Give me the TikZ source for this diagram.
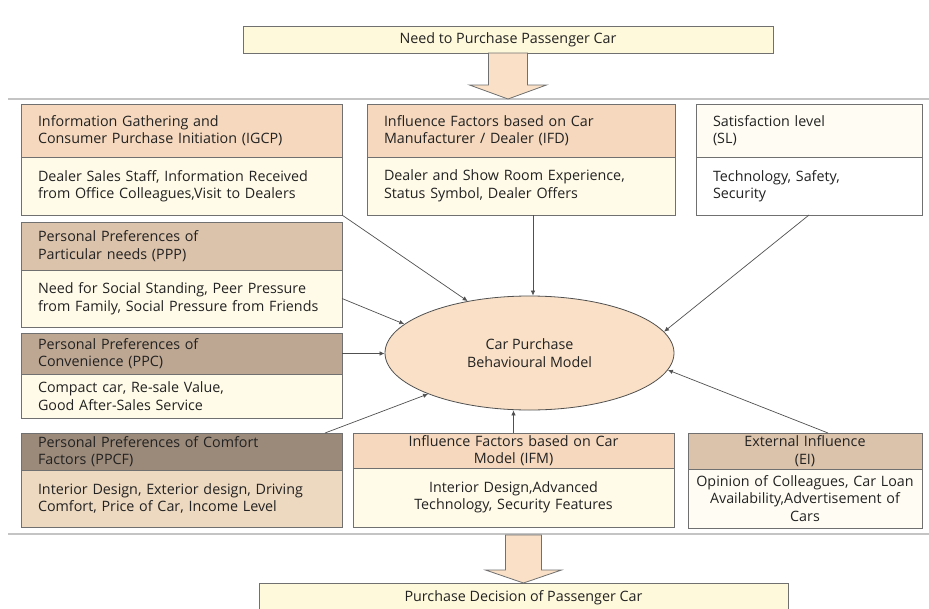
\documentclass[tikz,border=0pt]{standalone}
\usepackage{fontspec}
\setmainfont{Open Sans}
\usetikzlibrary{positioning,arrows.meta,shapes.geometric}

\definecolor{boxline}{HTML}{707070}
\definecolor{linkgray}{HTML}{505050}
\definecolor{txt}{HTML}{222222}
\definecolor{cream}{HTML}{FFFBE8}
\definecolor{paleyellow}{HTML}{FFF9DC}
\definecolor{peach}{HTML}{F5D8BD}
\definecolor{shell}{HTML}{FFFDF3}
\definecolor{tan}{HTML}{DBC2AA}
\definecolor{taupe}{HTML}{BDA792}
\definecolor{mud}{HTML}{9B8A7A}
\definecolor{sand}{HTML}{EDD8C0}
\definecolor{skin}{HTML}{F9E0C6}
\definecolor{sepgray}{HTML}{C4C4C4}

\begin{document}
\begin{tikzpicture}[x=1pt, y=-1pt, >={Latex[length=5pt,width=4.5pt]},
    every node/.style={font=\fontsize{14.3}{17.5}\selectfont, text=txt},
    box/.style={draw=boxline, line width=0.9pt, outer sep=0pt, inner xsep=17pt, inner ysep=2pt, align=left},
    cbox/.style={box, align=center},
    link/.style={->, draw=linkgray, line width=0.7pt},
    blockarrow/.style={draw=boxline, fill=skin, line width=0.8pt, line join=miter},
    sepline/.style={draw=sepgray, line width=1.2pt}]
    \useasboundingbox (0,0) rectangle (929,608);
    \fill[white] (0,0) rectangle (929,608);
    \clip (0,0) rectangle (929,608);

    % start and end
    \node[cbox, fill=paleyellow, minimum width=530pt, minimum height=27pt, anchor=north west] (need) at (243,26) {Need to Purchase Passenger Car};
    \node[cbox, fill=paleyellow, minimum width=529pt, minimum height=30pt, anchor=north west] (decision) at (259,583) {Purchase Decision of Passenger Car};

    \draw[sepline] (8,99) -- (929,99);
    \draw[sepline] (8,534) -- (929,534);

    \draw[blockarrow] ([xshift=-19.5pt]need.south) -- ++(0,32) -- ++(-19,0) -- ++(38.5,14) -- ++(38.5,-14) -- ++(-19,0) -- ++(0,-32) -- cycle;
    \draw[blockarrow] (decision.north) -- ++(-38,-13) -- ++(20,0) -- ++(0,-35) -- ++(36,0) -- ++(0,35) -- ++(20,0) -- cycle;

    % top row
    \node[box, fill=peach, text width=287pt, minimum height=53pt, anchor=north west] (igcpH) at (21,104) {Information Gathering and\\Consumer Purchase Initiation (IGCP)};
    \node[box, fill=cream, text width=287pt, minimum height=58pt, below=0pt of igcpH] (igcpB) {Dealer Sales Staff, Information Received\\from Office Colleagues,Visit to Dealers};
    \node[box, fill=peach, text width=274pt, minimum height=53pt, anchor=north west] (ifdH) at (367,104) {Influence Factors based on Car\\Manufacturer / Dealer (IFD)};
    \node[box, fill=cream, text width=274pt, minimum height=58pt, below=0pt of ifdH] (ifdB) {Dealer and Show Room Experience,\\Status Symbol, Dealer Offers};
    \node[box, fill=shell, text width=192pt, minimum height=53pt, anchor=north west] (slH) at (696,104) {Satisfaction level\\(SL)};
    \node[box, fill=white, text width=192pt, minimum height=58pt, below=0pt of slH] (slB) {Technology, Safety,\\Security};

    % left column
    \node[box, fill=tan, text width=287pt, minimum height=48pt, anchor=north west] (pppH) at (21,222) {Personal Preferences of\\Particular needs (PPP)};
    \node[box, fill=cream, text width=287pt, minimum height=57pt, below=0pt of pppH] (pppB) {Need for Social Standing, Peer Pressure\\from Family, Social Pressure from Friends};
    \node[box, fill=taupe, text width=287pt, minimum height=41pt, anchor=north west] (ppcH) at (21,333) {Personal Preferences of\\Convenience (PPC)};
    \node[box, fill=cream, text width=287pt, minimum height=44pt, below=0pt of ppcH] (ppcB) {Compact car, Re-sale Value,\\Good After-Sales Service};

    % bottom row
    \node[box, fill=mud, text width=287pt, minimum height=37pt, anchor=north west] (ppcfH) at (21,433) {Personal Preferences of Comfort\\Factors (PPCF)};
    \node[box, fill=sand, text width=287pt, minimum height=57pt, below=0pt of ppcfH] (ppcfB) {Interior Design, Exterior design, Driving\\Comfort, Price of Car, Income Level};
    \node[cbox, fill=peach, text width=287pt, minimum height=35pt, anchor=north west] (ifmH) at (353,433) {Influence Factors based on Car\\Model (IFM)};
    \node[cbox, fill=cream, text width=287pt, minimum height=59pt, below=0pt of ifmH] (ifmB) {Interior Design,Advanced\\Technology, Security Features};
    \node[cbox, fill=tan, inner xsep=2pt, text width=230pt, minimum height=36pt, anchor=north west] (eiH) at (688,433) {External Influence\\(EI)};
    \node[cbox, fill=shell, inner xsep=2pt, text width=230pt, minimum height=59pt, below=0pt of eiH] (eiB) {Opinion of Colleagues, Car Loan\\Availability,Advertisement of\\Cars};

    % model
    \node[ellipse, draw=linkgray, line width=0.8pt, fill=skin, minimum width=289pt, minimum height=114pt, inner sep=0pt, align=center] (model) at (529.5,353) {Car Purchase\\Behavioural Model};

    \draw[link] (igcpB.south east) -- (model.140);
    \draw[link] ([xshift=12pt]ifdB.south) -- ([xshift=12pt]ifdB.south |- model.north);
    \draw[link] (slB.south) -- (model.9);
    \draw[link] (pppB.east) -- (model.167);
    \draw[link] (ppcH.east) -- (ppcH.east -| model.west);
    \draw[link] ([xshift=-17pt]ppcfH.north east) -- (model.202);
    \draw[link] (ifmH.north) -- (ifmH.north |- model.south);
    \draw[link] ([xshift=23pt]eiH.north) -- (model.-7);
\end{tikzpicture}
\end{document}
